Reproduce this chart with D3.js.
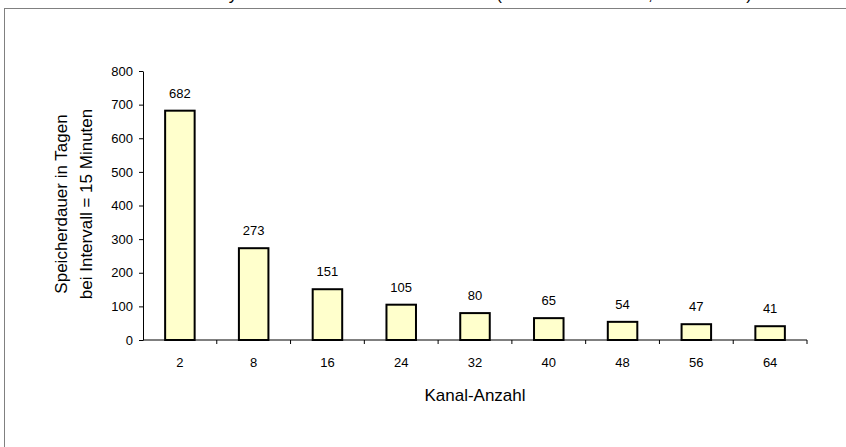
<!DOCTYPE html>
<html>
<head>
<meta charset="utf-8">
<script src="https://cdn.jsdelivr.net/npm/d3@7"></script>
<style>
  body { margin: 0; background: #fff; }
  svg text { font-family: Arial, "Liberation Sans", sans-serif; fill: #000; }
</style>
</head>
<body>
<div id="chart"></div>
<script>
const width = 846, height = 447;

// data
const channels = ["2", "8", "16", "24", "32", "40", "48", "56", "64"];
const days = [682, 273, 151, 105, 80, 65, 54, 47, 41];
const yTicks = [0, 100, 200, 300, 400, 500, 600, 700, 800];

const margin = {left: 143, right: 39, top: 71, bottom: 107};

var svg = d3.select("#chart")
  .append("svg")
  .attr("width", width)
  .attr("height", height);

// cut-off title at the top
svg.append("text")
  .attr("x", 752)
  .attr("y", 0)
  .attr("text-anchor", "end")
  .style("font-size", "17px")
  .text("nach Synchronisation mit dem Messdaten (Messdaten: Tabelle, nur Istwerte)");

// outer frame
svg.append("rect")
  .attr("x", 4.5)
  .attr("y", 8.5)
  .attr("width", width)
  .attr("height", height)
  .attr("fill", "none")
  .attr("stroke", "#808080");

const x = d3.scaleBand()
  .domain(channels)
  .range([margin.left, width - margin.right])
  .paddingInner(0.6)
  .paddingOuter(0.3);

const y = d3.scaleLinear()
  .domain([0, 800])
  .range([height - margin.bottom, margin.top]);

// y axis
const yAxis = svg.append("g")
  .attr("transform", `translate(${margin.left},0)`)
  .call(d3.axisLeft(y).tickValues(yTicks).tickSize(4).tickPadding(6).tickSizeOuter(0));
yAxis.selectAll("text").style("font-size", "13px");

// x axis: ticks at category boundaries
const xAxisY = y(0);
const xg = svg.append("g");
xg.append("line")
  .attr("x1", margin.left).attr("x2", width - margin.right)
  .attr("y1", xAxisY).attr("y2", xAxisY)
  .attr("stroke", "#000");
xg.selectAll(".tick")
  .data(d3.range(1, channels.length + 1))
  .enter().append("line")
  .attr("x1", i => margin.left + i * (width - margin.left - margin.right) / channels.length)
  .attr("x2", i => margin.left + i * (width - margin.left - margin.right) / channels.length)
  .attr("y1", xAxisY).attr("y2", xAxisY + 4)
  .attr("stroke", "#000");
xg.selectAll(".lab")
  .data(channels)
  .enter().append("text")
  .attr("x", d => x(d) + x.bandwidth() / 2)
  .attr("y", xAxisY + 27)
  .attr("text-anchor", "middle")
  .style("font-size", "13px")
  .text(d => d);

svg.selectAll(".domain, .tick line").attr("stroke", "#000");

// bars
svg.append("g")
  .selectAll("rect")
  .data(days)
  .enter().append("rect")
  .attr("x", (d, i) => x(channels[i]))
  .attr("y", d => y(d))
  .attr("width", x.bandwidth())
  .attr("height", d => y(0) - y(d))
  .attr("fill", "#FFFFCC")
  .attr("stroke", "#000")
  .attr("stroke-width", 2);

// value labels
svg.append("g")
  .selectAll("text")
  .data(days)
  .enter().append("text")
  .attr("x", (d, i) => x(channels[i]) + x.bandwidth() / 2)
  .attr("y", d => y(d) - 13)
  .attr("text-anchor", "middle")
  .style("font-size", "13px")
  .text(d => d);

// axis titles
svg.append("text")
  .attr("x", 475)
  .attr("y", 401)
  .attr("text-anchor", "middle")
  .style("font-size", "17px")
  .text("Kanal-Anzahl");

const yt = svg.append("text")
  .attr("transform", "translate(67,204) rotate(-90)")
  .attr("text-anchor", "middle")
  .style("font-size", "17px");
yt.append("tspan").attr("x", 0).attr("dy", 0).text("Speicherdauer in Tagen");
yt.append("tspan").attr("x", 0).attr("dy", 25).text("bei Intervall = 15 Minuten");
</script>
</body>
</html>
